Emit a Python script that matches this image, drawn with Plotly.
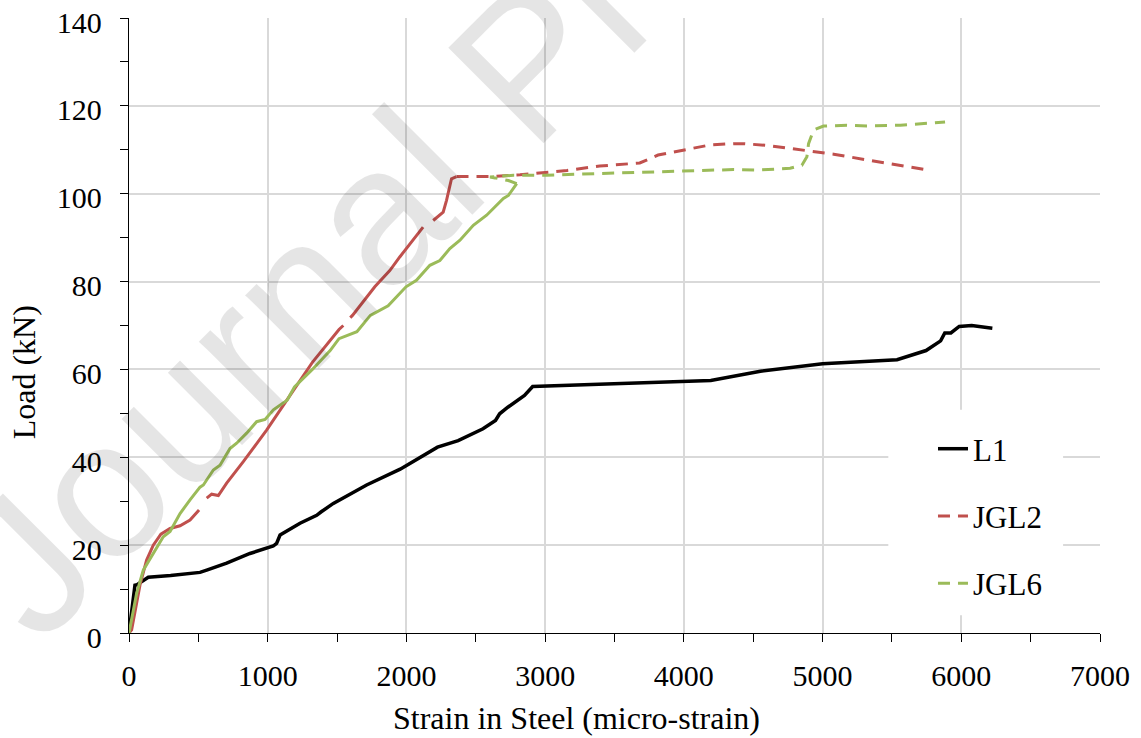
import plotly.graph_objects as go

# ---------------- data ----------------
L1_strain = [0, 43, 58, 115, 139, 300, 512, 560, 704, 872, 1040, 1064, 1089, 1233, 1353,
             1386, 1473, 1713, 1955, 2224, 2373, 2552, 2642, 2672, 2731, 2851, 2910, 3388,
             4194, 4552, 5000, 5537, 5597, 5746, 5851, 5881, 5925, 5985, 6075, 6224]
L1_load = [0, 10.9, 11.0, 12.3, 12.7, 13.1, 13.8, 14.3, 15.9, 18.1, 19.8, 20.4, 22.3, 25.0, 26.8,
           27.6, 29.5, 33.7, 37.3, 42.3, 43.8, 46.5, 48.4, 49.9, 51.4, 54.1, 56.1, 56.6,
           57.5, 59.6, 61.3, 62.2, 62.8, 64.3, 66.5, 68.3, 68.3, 69.8, 70.0, 69.4]

JGL2_strain = [0, 19, 79, 127, 175, 230, 296, 368, 440, 505,
               560, 596, 644, 704, 824, 992, 1161, 1322, 1514, 1545,
               1595, 1611, 1772, 1880, 1952, 2024, 2060, 2120,
               2193, 2265, 2289, 2313, 2325, 2361,
               2602, 2819, 3157, 3393, 3586, 3682, 3814, 3995, 4188, 4357, 4429,
               4598, 4766, 4935, 5080, 5320, 5561, 5742]
JGL2_load = [0, 0.7, 10.9, 16.6, 20.0, 22.5, 23.8, 24.4, 25.7, 28.0,
             30.7, 31.6, 31.3, 34.1, 39.0, 46.2, 54.1, 61.6, 69.1, 70.0,
             71.8, 72.3, 78.8, 82.5, 85.6, 88.6, 90.0, 92.4,
             93.9, 95.8, 98.5, 101.5, 103.4, 103.9,
             103.9, 104.3, 105.3, 106.3, 106.7, 107.0, 108.8, 109.9, 111.1, 111.4, 111.4,
             111.0, 110.3, 109.7, 109.0, 107.7, 106.5, 105.5]

JGL6_strain = [0, 55, 103, 175, 247, 296, 368, 440, 512, 536, 608, 656, 728, 776, 848,
               920, 981, 1041, 1140, 1193, 1322, 1450, 1514, 1643, 1740, 1868, 1997,
               2072, 2169, 2241, 2313, 2386, 2482, 2578, 2639, 2699, 2735, 2795,
               2735, 2639, 2602, 2771, 3012, 3393, 3634, 3995, 4357, 4549, 4766,
               4851, 4887, 4899, 4935, 5007, 5176, 5320, 5561, 5883]
JGL6_load = [0, 9.0, 14.3, 18.1, 21.9, 23.1, 27.2, 30.3, 33.2, 33.7, 37.1, 38.2, 42.0, 43.2, 45.5,
             48.1, 48.6, 50.8, 53.0, 56.0, 60.0, 64.3, 67.0, 68.6, 72.3, 74.5, 78.8,
             80.3, 83.7, 84.8, 87.5, 89.4, 92.8, 95.1, 97.0, 98.9, 99.6, 102.3,
             103.0, 103.6, 103.8, 104.2, 104.2, 104.6, 104.8, 105.2, 105.5, 105.4, 105.8,
             106.5, 108.4, 111.4, 114.5, 115.4, 115.6, 115.4, 115.6, 116.3]

x_tick_vals = [0, 1000, 2000, 3000, 4000, 5000, 6000, 7000]
y_tick_vals = [0, 20, 40, 60, 80, 100, 120, 140]

# ---------------- styling ----------------
FONT = "Liberation Serif"
RED = "#c0504d"
GREEN = "#9bbb59"
DASH = "12px,8px"

# dense (recorded) parts appear solid, sparse parts dashed
JGL2_solid_end = 33
JGL2_breaks = [9, 19, 27]
JGL6_solid_end = 37


def solid_part(xs, ys, end, breaks=()):
    ox, oy = [], []
    for i in range(end + 1):
        ox.append(xs[i])
        oy.append(ys[i])
        if i in breaks:
            ox.append(None)
            oy.append(None)
    return ox, oy


fig = go.Figure()

fig.add_trace(go.Scatter(x=L1_strain, y=L1_load, mode="lines", name="L1",
                         legendgroup="L1",
                         line=dict(color="black", width=3.5)))

sx, sy = solid_part(JGL2_strain, JGL2_load, JGL2_solid_end, JGL2_breaks)
fig.add_trace(go.Scatter(x=sx, y=sy, mode="lines", showlegend=False, legendgroup="JGL2",
                         connectgaps=False, line=dict(color=RED, width=3)))
fig.add_trace(go.Scatter(x=JGL2_strain[JGL2_solid_end:], y=JGL2_load[JGL2_solid_end:],
                         mode="lines", name="JGL2", legendgroup="JGL2",
                         line=dict(color=RED, width=3, dash=DASH)))

sx, sy = solid_part(JGL6_strain, JGL6_load, JGL6_solid_end)
fig.add_trace(go.Scatter(x=sx, y=sy, mode="lines", showlegend=False, legendgroup="JGL6",
                         line=dict(color=GREEN, width=3)))
fig.add_trace(go.Scatter(x=JGL6_strain[JGL6_solid_end:], y=JGL6_load[JGL6_solid_end:],
                         mode="lines", name="JGL6", legendgroup="JGL6",
                         line=dict(color=GREEN, width=3, dash=DASH)))

axis_common = dict(
    showgrid=True, gridcolor="#d9d9d9", gridwidth=1.5,
    showline=True, linecolor="black", linewidth=1.3,
    ticks="outside", ticklen=8, tickwidth=1.3, tickcolor="black",
    zeroline=False, ticklabeloverflow="allow", automargin=False,
    tickfont=dict(family=FONT, size=30, color="black"),
)

fig.update_xaxes(range=[0, 7000], tickmode="array", tickvals=x_tick_vals,
                 ticktext=[str(v) for v in x_tick_vals],
                 minor=dict(tick0=0, dtick=500, ticks="outside", ticklen=8, tickwidth=1.3,
                            tickcolor="black", showgrid=False),
                 ticklabelstandoff=8, **axis_common)
fig.update_yaxes(range=[0, 140], tickmode="array", tickvals=y_tick_vals,
                 ticktext=[str(v) for v in y_tick_vals],
                 minor=dict(tick0=0, dtick=10, ticks="outside", ticklen=8, tickwidth=1.3,
                            tickcolor="black", showgrid=False),
                 ticklabelstandoff=12, ticklabelshift=4, **axis_common)

fig.update_layout(
    width=1141, height=738,
    margin=dict(l=129, r=41, t=18, b=105),
    paper_bgcolor="white", plot_bgcolor="white",
    font=dict(family=FONT, size=30, color="black"),
    legend=dict(x=0.828, y=0.343, xanchor="left", yanchor="top",
                bgcolor="white", borderwidth=0,
                font=dict(family=FONT, size=31, color="black"),
                tracegroupgap=24, traceorder="grouped"),
    shapes=[
        # white panel behind the legend (hides the gridlines there)
        dict(type="rect", xref="paper", yref="paper", layer="above",
             x0=0.782, x1=0.962, y0=0.029, y1=0.363,
             fillcolor="white", line=dict(width=0)),
    ],
    annotations=[
        dict(text="Journal Pre-proof", xref="paper", yref="paper", x=0.41, y=0.924,
             xanchor="center", yanchor="middle", textangle=-45, showarrow=False,
             font=dict(family="Liberation Sans", size=196, color="rgba(0,0,0,0.1)")),
        dict(text="Strain in Steel (micro-strain)", xref="paper", yref="paper",
             x=0.461, y=-0.138, xanchor="center", yanchor="middle", showarrow=False,
             font=dict(family=FONT, size=32, color="black")),
        dict(text="Load (kN)", xref="paper", yref="paper",
             x=-0.108, y=0.424, xanchor="center", yanchor="middle", textangle=-90,
             showarrow=False, font=dict(family=FONT, size=32, color="black")),
    ],
)

fig.write_html("out.html")
